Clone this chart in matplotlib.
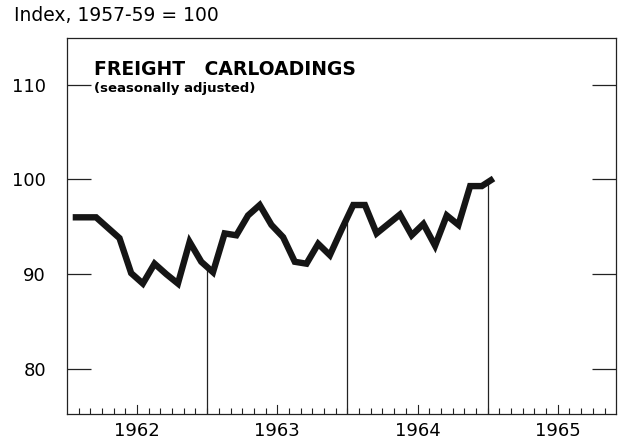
import numpy as np
import matplotlib
matplotlib.use('Agg')
import matplotlib.pyplot as plt

plt.rcParams['font.family'] = ['DejaVu Sans']

# monthly index values, Jan 1962 .. Jan 1965 (1957-59 = 100)
vals_1962 = [96.0, 96.0, 96.0, 94.9, 93.8, 90.1, 89.0, 91.1, 90.0, 89.0, 93.4, 91.3]
vals_1963 = [90.2, 94.3, 94.1, 96.2, 97.3, 95.2, 93.9, 91.3, 91.1, 93.2, 92.0, 94.7]
vals_1964 = [97.3, 97.3, 94.3, 95.3, 96.3, 94.1, 95.3, 93.0, 96.2, 95.2, 99.3, 99.3]
vals_1965 = [100.1]
years = ['1962', '1963', '1964', '1965']
yticks = [80, 90, 100, 110]

vals = np.array(vals_1962 + vals_1963 + vals_1964 + vals_1965)
# x in months from Jan 1 1962, points plotted mid-month
x = np.arange(len(vals)) + 0.5

fig = plt.figure(figsize=(6.25, 4.42), dpi=100)
ax = fig.add_axes([0.107, 0.063, 0.879, 0.85])

ax.plot(x, vals, color='#151515', lw=4.6, solid_joinstyle='miter', solid_capstyle='butt', zorder=3)

# drop lines at year boundaries
for yb in [12, 24, 36]:
    ax.plot([yb, yb], [75.2, np.interp(yb, x, vals)], color='#222222', lw=0.9, zorder=2)

ax.set_xlim(0, 47)
ax.set_ylim(75.2, 114.9)

ax.set_yticks(yticks)
ax.set_yticklabels([str(v) for v in yticks], fontsize=13)
ax.tick_params(axis='y', direction='in', length=17, width=0.9, pad=15, right=True, colors='#222222', labelcolor='black')

# year labels centred under each year, monthly minor ticks
ax.set_xticks([6, 18, 30, 42])
ax.set_xticklabels(years, fontsize=13)
ax.tick_params(axis='x', which='major', length=0, pad=6)
ax.set_xticks(np.arange(1, 47), minor=True)
ax.tick_params(axis='x', which='minor', direction='in', length=4, width=0.8, colors='#222222')
for m in [6, 18, 30, 42]:
    ax.plot([m, m], [75.2, 75.2 + 0.95], color='#222222', lw=0.8, zorder=2)

for s in ax.spines.values():
    s.set_linewidth(0.9)
    s.set_color('#222222')

ax.text(0.05, 0.918, 'FREIGHT   CARLOADINGS', transform=ax.transAxes, fontsize=13.5,
        fontweight='bold', ha='left', va='center')
ax.text(0.05, 0.868, '(seasonally adjusted)', transform=ax.transAxes, fontsize=9.5,
        fontweight='bold', ha='left', va='center')
fig.text(0.022, 0.965, 'Index, 1957-59 = 100', fontsize=13.5, ha='left', va='center')

fig.savefig('out.png', dpi=100)
